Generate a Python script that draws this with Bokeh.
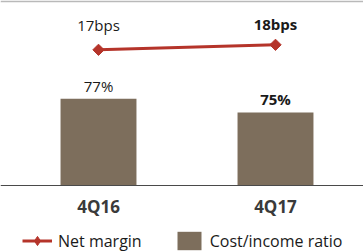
import math
from bokeh.plotting import figure
from bokeh.models import (Range1d, ColumnDataSource, Legend, LegendItem, Span)
from bokeh.core.properties import value
from bokeh.embed import file_html
from bokeh.resources import INLINE

# ---- data ----
categories = ["4Q16", "4Q17"]
cost_income = [77, 75]          # %
net_margin = [17, 18]           # bps
cost_income_labels = ["77%", "75%"]
net_margin_labels = ["17bps", "18bps"]

# ---- styles ----
BAR_COLOR = "#7d6e5c"
LINE_COLOR = "#b5342a"
TEXT_COLOR = "#1a1a1a"
AXIS_COLOR = "#4a4a4a"
FONT = "Open Sans"
label_weights = ["normal", "bold"]
nm_label_offsets = [-25, -21]
bar_floor = 64.34

x_idx = list(range(len(categories)))

p = figure(width=363, height=251, output_backend="svg", toolbar_location=None,
           x_range=Range1d(-0.5537, 1.4972), y_range=Range1d(54.70, 91.06),
           min_border_left=0, min_border_right=0, min_border_bottom=0,
           min_border_top=2)
p.outline_line_color = None
p.grid.visible = False
p.axis.visible = False
p.background_fill_color = "white"
p.border_fill_color = "#b9b9b9"

p.extra_y_ranges = {"margin": Range1d(-23.34, 26.46)}

src = ColumnDataSource(dict(
    x=x_idx, cat=categories, ci=cost_income, nm=net_margin,
    ci_lab=cost_income_labels, nm_lab=net_margin_labels, w=label_weights,
    off=nm_label_offsets))

bars = p.vbar(x="x", top="ci", bottom=bar_floor, width=0.429, source=src,
              fill_color=BAR_COLOR, line_color=None)

# category axis baseline
p.add_layout(Span(location=bar_floor, dimension="width",
                  line_color=AXIS_COLOR, line_width=1.2))

line = p.line(x="x", y="nm", source=src, y_range_name="margin",
              line_color=LINE_COLOR, line_width=3)
# small diamond used as the legend swatch (sits under the main markers)
legend_dia = p.scatter(x="x", y="nm", source=src, y_range_name="margin",
                       marker="diamond", size=8,
                       fill_color=LINE_COLOR, line_color=LINE_COLOR)
dots = p.scatter(x="x", y="nm", source=src, y_range_name="margin",
                 marker="square", angle=math.pi / 4, size=8,
                 fill_color=LINE_COLOR, line_color=LINE_COLOR)

p.text(x="x", y="ci", text="ci_lab", source=src, text_align="center",
       text_baseline="middle", y_offset=-13, text_font=value(FONT),
       text_font_size="15px", text_font_style="w", text_color=TEXT_COLOR)
p.text(x="x", y="nm", text="nm_lab", source=src, y_range_name="margin",
       text_align="center", text_baseline="middle", y_offset="off",
       text_font=value(FONT), text_font_size="15px", text_font_style="w",
       text_color=TEXT_COLOR)
# category labels under the baseline
p.text(x="x", y=bar_floor, text="cat", source=src, text_align="center",
       text_baseline="middle", y_offset=21, text_font=value(FONT),
       text_font_size="17px", text_font_style="bold", text_color="#3a3a3a")

legend = Legend(items=[LegendItem(label="Net margin", renderers=[line, legend_dia]),
                       LegendItem(label="Cost/income ratio", renderers=[bars])],
                orientation="horizontal", location=(22, -1),
                glyph_width=30, glyph_height=23, label_standoff=6, spacing=32,
                margin=0, padding=0, border_line_color=None,
                background_fill_alpha=0, label_text_font=FONT,
                label_text_font_size="16px", label_text_color=TEXT_COLOR)
p.add_layout(legend, "center")

open("out.html", "w").write(file_html(p, INLINE))
